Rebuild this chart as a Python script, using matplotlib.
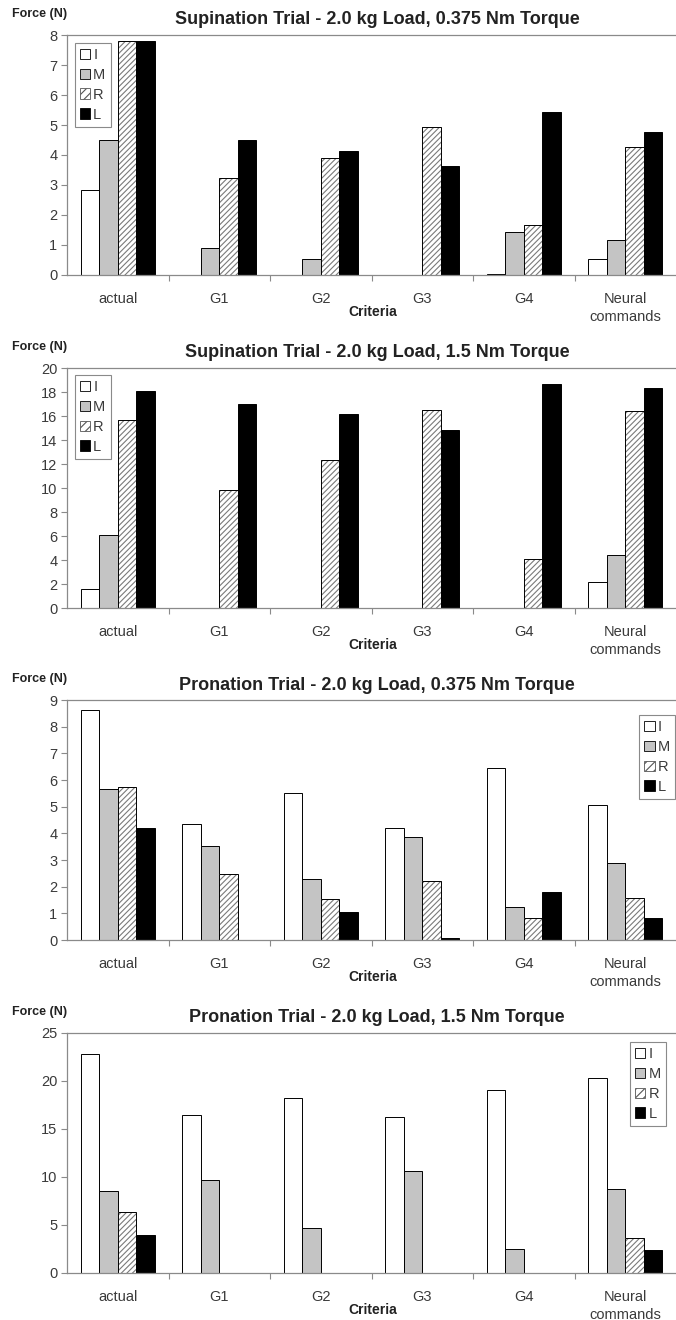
import matplotlib
matplotlib.use("Agg")
import matplotlib.pyplot as plt
import numpy as np
from matplotlib.patches import Patch

plt.rcParams["font.family"] = ["Liberation Sans", "DejaVu Sans"]
plt.rcParams["hatch.linewidth"] = 0.8

criteria = ["actual", "G1", "G2", "G3", "G4", "Neural\ncommands"]
series = ["I", "M", "R", "L"]

titles = [
    "Supination Trial - 2.0 kg Load, 0.375 Nm Torque",
    "Supination Trial - 2.0 kg Load, 1.5 Nm Torque",
    "Pronation Trial - 2.0 kg Load, 0.375 Nm Torque",
    "Pronation Trial - 2.0 kg Load, 1.5 Nm Torque",
]

# forces per muscle, one value per criterion
sup_0375_I = [2.85, 0.0, 0.0, 0.0, 0.03, 0.55]
sup_0375_M = [4.5, 0.9, 0.55, 0.0, 1.45, 1.17]
sup_0375_R = [7.8, 3.25, 3.9, 4.92, 1.67, 4.28]
sup_0375_L = [7.8, 4.5, 4.15, 3.65, 5.45, 4.78]

sup_15_I = [1.6, 0.0, 0.0, 0.0, 0.0, 2.15]
sup_15_M = [6.05, 0.0, 0.0, 0.0, 0.0, 4.4]
sup_15_R = [15.65, 9.8, 12.3, 16.5, 4.1, 16.45]
sup_15_L = [18.1, 17.0, 16.2, 14.8, 18.7, 18.35]

pro_0375_I = [8.63, 4.34, 5.52, 4.21, 6.46, 5.05]
pro_0375_M = [5.66, 3.52, 2.27, 3.86, 1.24, 2.9]
pro_0375_R = [5.72, 2.46, 1.52, 2.21, 0.82, 1.57]
pro_0375_L = [4.19, 0.0, 1.04, 0.07, 1.79, 0.81]

pro_15_I = [22.8, 16.5, 18.2, 16.3, 19.1, 20.35]
pro_15_M = [8.5, 9.65, 4.7, 10.6, 2.5, 8.75]
pro_15_R = [6.35, 0.0, 0.0, 0.0, 0.0, 3.6]
pro_15_L = [3.96, 0.0, 0.0, 0.0, 0.0, 2.43]

ymax = [8, 20, 9, 25]
ystep = [1, 2, 1, 5]

panels = [
    [sup_0375_I, sup_0375_M, sup_0375_R, sup_0375_L],
    [sup_15_I, sup_15_M, sup_15_R, sup_15_L],
    [pro_0375_I, pro_0375_M, pro_0375_R, pro_0375_L],
    [pro_15_I, pro_15_M, pro_15_R, pro_15_L],
]

# axes top/bottom in pixels, legend anchor (axes coords)
ax_px = [(35, 275), (368, 608), (700, 940), (1033, 1273)]
leg_pos = [("upper left", (0.013, 0.967)), ("upper left", (0.013, 0.971)),
           ("upper right", (0.998, 0.9375)), ("upper right", (0.983, 0.9625))]

W, H = 676, 1320
fig = plt.figure(figsize=(W / 100, H / 100), dpi=100)

grey = "#8a8a8a"
txt = "#3a3a3a"
bw = 0.182
x = np.arange(len(criteria))

for k in range(4):
    top, bot = ax_px[k]
    ax = fig.add_axes([67 / W, 1 - bot / H, (W - 67) / W, (bot - top) / H])
    I, M, R, L = [np.array(v) for v in panels[k]]
    lw = lambda v: np.where(v > 0, 0.7, 0)

    ax.bar(x - 1.5 * bw, I, bw, color="white", edgecolor="black", linewidth=lw(I))
    ax.bar(x - 0.5 * bw, M, bw, color="#c4c4c4", edgecolor="black", linewidth=lw(M))
    ax.bar(x + 0.5 * bw, R, bw, color="white", edgecolor="#7a7a7a",
           hatch="//////", linewidth=0)
    ax.bar(x + 0.5 * bw, R, bw, fill=False, edgecolor="black", linewidth=lw(R))
    ax.bar(x + 1.5 * bw, L, bw, color="black", edgecolor="black", linewidth=lw(L))

    ax.set_xlim(-0.5, 5.5)
    ax.set_ylim(0, ymax[k])
    ax.set_yticks(np.arange(0, ymax[k] + 0.01, ystep[k]))
    ax.set_xticks(x)
    ax.set_xticklabels(criteria, linespacing=1.35)
    ax.set_xticks(np.arange(0.5, 5.5, 1), minor=True)
    ax.tick_params(axis="x", which="major", length=0, pad=12, labelsize=10.5,
                   labelcolor=txt)
    ax.tick_params(axis="x", which="minor", length=4, color=grey, width=0.8)
    ax.tick_params(axis="y", length=4, color=grey, width=0.8, labelsize=10.5,
                   labelcolor=txt, pad=3)
    for s in ["left", "bottom", "top"]:
        ax.spines[s].set_color(grey)
        ax.spines[s].set_linewidth(0.9)
    ax.spines["right"].set_visible(False)

    handles = [
        Patch(facecolor="white", edgecolor="black", linewidth=0.6),
        Patch(facecolor="#c4c4c4", edgecolor="black", linewidth=0.6),
        Patch(facecolor="white", edgecolor="#555555", hatch="////", linewidth=0.6),
        Patch(facecolor="black", edgecolor="black", linewidth=0.6),
    ]
    loc, anchor = leg_pos[k]
    leg = ax.legend(handles, series, loc=loc, bbox_to_anchor=anchor,
                    borderaxespad=0, fancybox=False, fontsize=10.5,
                    handlelength=0.7, handleheight=0.7, handletextpad=0.2,
                    labelspacing=0.4, borderpad=0.35, framealpha=1)
    leg.get_frame().set_edgecolor(grey)
    leg.get_frame().set_linewidth(0.8)
    for t in leg.get_texts():
        t.set_color(txt)

    fig.text(377 / W, 1 - (top - 15) / H, titles[k], ha="center", va="center",
             fontsize=13, fontweight="bold", color="#222222")
    fig.text(12 / W, 1 - (top - 21) / H, "Force (N)", ha="left", va="center",
             fontsize=9, fontweight="bold", color="#222222")
    fig.text(373 / W, 1 - (bot + 37) / H, "Criteria", ha="center", va="center",
             fontsize=10, fontweight="bold", color="#222222")

fig.savefig("out.png", dpi=100)
